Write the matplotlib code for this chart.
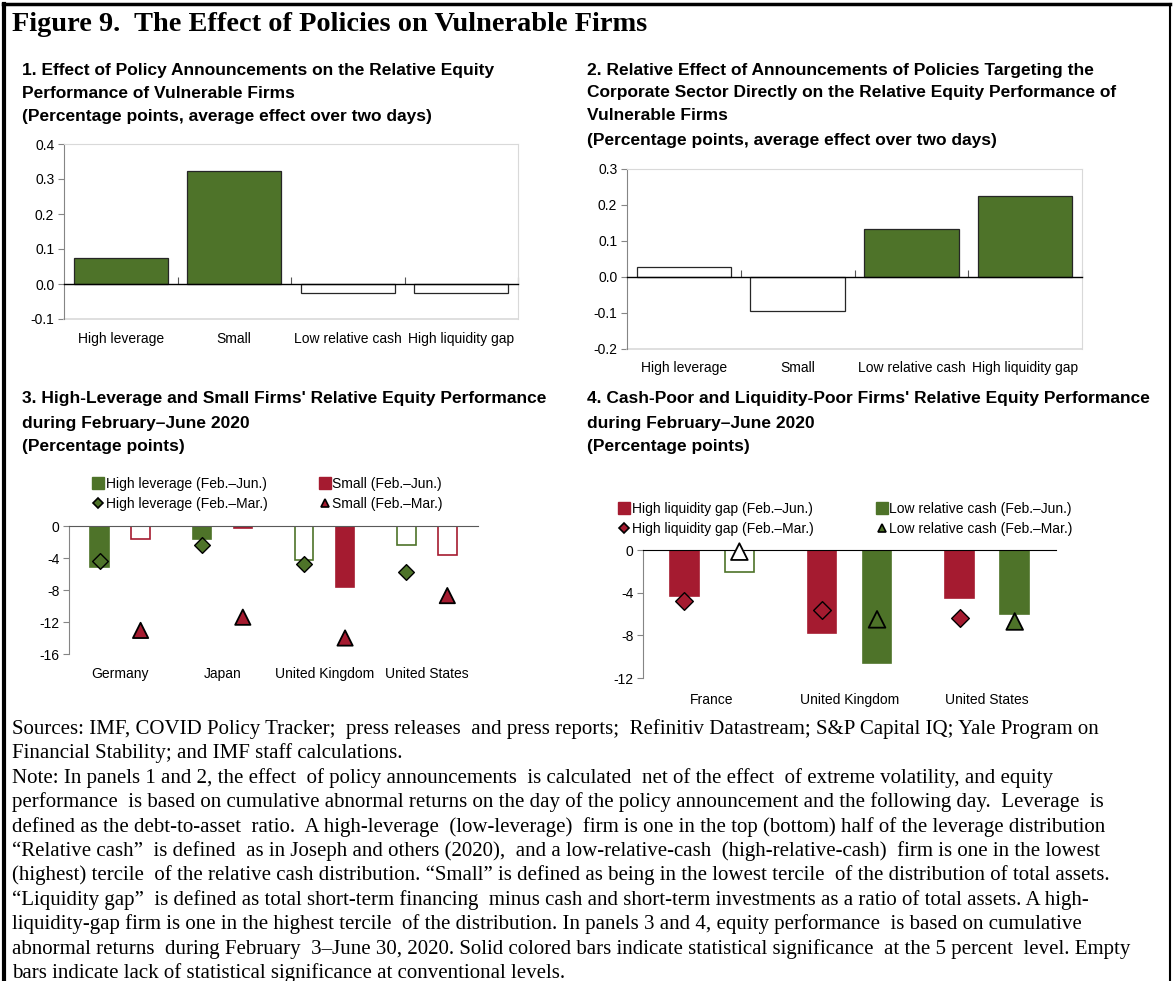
import numpy as np
import matplotlib
matplotlib.use("Agg")
import matplotlib.pyplot as plt
from matplotlib.lines import Line2D
from matplotlib import transforms

plt.rcParams['axes.unicode_minus'] = False

# ---- data ----
p1_cats = ["High leverage", "Small", "Low relative cash", "High liquidity gap"]
p1_vals = [0.075, 0.323, -0.026, -0.026]
p1_sig = [True, True, False, False]

p2_cats = ["High leverage", "Small", "Low relative cash", "High liquidity gap"]
p2_vals = [0.028, -0.095, 0.134, 0.224]
p2_sig = [False, False, True, True]

p3_countries = ["Germany", "Japan", "United Kingdom", "United States"]
p3_lev_jun = [-5.1, -1.65, -4.3, -2.4]
p3_lev_jun_sig = [True, True, False, False]
p3_small_jun = [-1.65, -0.3, -7.6, -3.6]
p3_small_jun_sig = [False, True, True, False]
p3_lev_mar = [-4.35, -2.4, -4.8, -5.7]
p3_small_mar = [-13.05, -11.4, -14.0, -8.7]

p4_countries = ["France", "United Kingdom", "United States"]
p4_gap_jun = [-4.27, -7.8, -4.5]
p4_gap_jun_sig = [True, True, True]
p4_cash_jun = [-2.1, -10.6, -6.0]
p4_cash_jun_sig = [False, True, True]
p4_gap_mar = [-4.8, -5.6, -6.4]
p4_cash_mar = [-0.15, -6.5, -6.7]
p4_cash_mar_sig = [False, True, True]

GREEN = "#4e7329"
RED = "#a51b30"
EDGE = "#262626"
LIGHT = "#d9d9d9"
AXGRAY = "#858585"

W, H = 1173, 981
fig = plt.figure(figsize=(W / 100, H / 100), dpi=100)

SANS = ["Liberation Sans", "DejaVu Sans"]
SERIF = ["Liberation Serif", "DejaVu Serif"]


def rect(l, t, r, b):
    return [l / W, 1 - b / H, (r - l) / W, (b - t) / H]


def ftext(x, y, s, **kw):
    fig.text(x / W, 1 - y / H, s, **kw)


# frame around the figure
fig.add_artist(Line2D([4 / W, 4 / W], [0, 1 - 4 / H], color="black", lw=3))
fig.add_artist(Line2D([3 / W, 1170 / W], [1 - 4 / H, 1 - 4 / H], color="black", lw=2.5))
fig.add_artist(Line2D([1170 / W, 1170 / W], [0, 1 - 4 / H], color="black", lw=1.5))

ftext(12, 31, "Figure 9.  The Effect of Policies on Vulnerable Firms", family=SERIF,
      weight="bold", fontsize=20.4, va="baseline")

title_kw = dict(family=SANS, weight="bold", fontsize=12.5, va="center")
ftext(22, 70, "1. Effect of Policy Announcements on the Relative Equity", **title_kw)
ftext(22, 93, "Performance of Vulnerable Firms", **title_kw)
ftext(22, 116, "(Percentage points, average effect over two days)", **title_kw)

ftext(587, 70, "2. Relative Effect of Announcements of Policies Targeting the", **title_kw)
ftext(587, 93, "Corporate Sector Directly on the Relative Equity Performance of", **title_kw)
ftext(587, 116, "Vulnerable Firms", **title_kw)
ftext(587, 140, "(Percentage points, average effect over two days)", **title_kw)

ftext(22, 399, "3. High-Leverage and Small Firms' Relative Equity Performance", **title_kw)
ftext(22, 423, "during February\u2013June 2020", **title_kw)
ftext(22, 447, "(Percentage points)", **title_kw)

ftext(587, 399, "4. Cash-Poor and Liquidity-Poor Firms' Relative Equity Performance", **title_kw)
ftext(587, 423, "during February\u2013June 2020", **title_kw)
ftext(587, 447, "(Percentage points)", **title_kw)

tick_kw = dict(family=SANS, fontsize=10)


def style_left(ax):
    ax.spines["left"].set_color(AXGRAY)
    ax.tick_params(axis="y", direction="out", length=4, color=AXGRAY, pad=3,
                   labelsize=10, labelfontfamily=SANS)


def cat_labels(ax, cats, ypix):
    tr = transforms.blended_transform_factory(ax.transData, fig.transFigure)
    for i, c in enumerate(cats):
        ax.text(i, 1 - ypix / H, c, transform=tr, ha="center", va="center", **tick_kw)


# ---- panels 1 and 2 ----
def simple_panel(box, cats, vals, sig, ylim, ticks, fmt, label_y):
    ax = fig.add_axes(rect(*box))
    x = np.arange(len(cats))
    colors = [GREEN if s else "white" for s in sig]
    ax.bar(x, vals, width=0.83, color=colors, edgecolor=EDGE, linewidth=0.9, zorder=2)
    ax.set_xlim(-0.5, len(cats) - 0.5)
    ax.set_ylim(*ylim)
    ax.set_yticks(ticks)
    ax.set_yticklabels([fmt.format(t) for t in ticks])
    # zero line as bottom spine with small ticks at category boundaries
    ax.spines["bottom"].set_position(("data", 0))
    ax.spines["bottom"].set_color("black")
    ax.spines["bottom"].set_linewidth(1.0)
    ax.spines["bottom"].set_zorder(3)
    ax.set_xticks(x + 0.5)
    ax.tick_params(axis="x", direction="in", length=5, width=0.8, color="#555555",
                   labelbottom=False)
    for s in ["top", "right"]:
        ax.spines[s].set_color(LIGHT)
    ax.axhline(ylim[0], color=LIGHT, lw=1.2, clip_on=False)
    style_left(ax)
    cat_labels(ax, cats, label_y)
    return ax


simple_panel((64, 144, 518, 319), p1_cats, p1_vals, p1_sig, (-0.1, 0.4),
             [-0.1, 0.0, 0.1, 0.2, 0.3, 0.4], "{:.1f}", 339)
simple_panel((627, 169, 1082, 349), p2_cats, p2_vals, p2_sig, (-0.2, 0.3),
             [-0.2, -0.1, 0.0, 0.1, 0.2, 0.3], "{:.1f}", 368)


# ---- panels 3 and 4 ----
def country_panel(box, cats, jun_a, sig_a, col_a, jun_b, sig_b, col_b,
                  mar_a, mar_b, mar_b_sig, ylim, ticks, width, ms, zero_col, label_y):
    ax = fig.add_axes(rect(*box))
    x = np.arange(len(cats))
    off = 0.2
    ax.bar(x - off, jun_a, width=width, color=[col_a if s else "white" for s in sig_a],
           edgecolor=col_a, linewidth=1.2, zorder=2)
    ax.bar(x + off, jun_b, width=width, color=[col_b if s else "white" for s in sig_b],
           edgecolor=col_b, linewidth=1.2, zorder=2)
    ax.scatter(x - off, mar_a, marker="D", s=ms[0] ** 2, color=col_a, edgecolor="black",
               linewidth=1.0, zorder=4, clip_on=False)
    ax.scatter(x + off, mar_b, marker="^", s=ms[1] ** 2,
               color=[col_b if s else "white" for s in mar_b_sig],
               edgecolor="black", linewidth=1.3, zorder=4, clip_on=False)
    ax.set_xlim(-0.5, len(cats) - 0.5)
    ax.set_ylim(*ylim)
    ax.set_yticks(ticks)
    ax.spines["bottom"].set_position(("data", 0))
    ax.spines["bottom"].set_color(zero_col)
    ax.spines["bottom"].set_zorder(3)
    ax.set_xticks([])
    ax.spines["top"].set_visible(False)
    ax.spines["right"].set_visible(False)
    style_left(ax)
    cat_labels(ax, cats, label_y)
    return ax


ax3 = country_panel((69, 526, 478, 654), p3_countries,
                    p3_lev_jun, p3_lev_jun_sig, GREEN, p3_small_jun, p3_small_jun_sig, RED,
                    p3_lev_mar, p3_small_mar, [True] * 4, (-16, 0), [-16, -12, -8, -4, 0],
                    0.18, (8, 11), "#595959", 674)
ax4 = country_panel((643, 550, 1056, 678), p4_countries,
                    p4_gap_jun, p4_gap_jun_sig, RED, p4_cash_jun, p4_cash_jun_sig, GREEN,
                    p4_gap_mar, p4_cash_mar, p4_cash_mar_sig, (-12, 0), [-12, -8, -4, 0],
                    0.21, (9, 12), "black", 700)


def legend(ax, labels, cols, anchor, colsp):
    h = [Line2D([], [], ls="none", marker="s", ms=8, color=cols[0]),
         Line2D([], [], ls="none", marker="D", ms=5, color=cols[0], mec="black", mew=1.2),
         Line2D([], [], ls="none", marker="s", ms=8, color=cols[1]),
         Line2D([], [], ls="none", marker="^", ms=6, color=cols[1], mec="black", mew=1.2)]
    ax.legend(h, labels, ncol=2, loc="upper left", bbox_to_anchor=(anchor[0] / W, 1 - anchor[1] / H),
              bbox_transform=fig.transFigure, frameon=False, handlelength=0.6,
              handletextpad=0.25, columnspacing=colsp, labelspacing=0.45, borderpad=0,
              borderaxespad=0, prop={"family": SANS, "size": 10})


legend(ax3, ["High leverage (Feb.\u2013Jun.)", "High leverage (Feb.\u2013Mar.)",
             "Small (Feb.\u2013Jun.)", "Small (Feb.\u2013Mar.)"], [GREEN, RED], (94, 477), 3.8)
legend(ax4, ["High liquidity gap (Feb.\u2013Jun.)", "High liquidity gap (Feb.\u2013Mar.)",
             "Low relative cash (Feb.\u2013Jun.)", "Low relative cash (Feb.\u2013Mar.)"],
       [RED, GREEN], (620, 502), 4.6)

# ---- notes ----
notes = [
    "Sources: IMF, COVID Policy Tracker;  press releases  and press reports;  Refinitiv Datastream; S&P Capital IQ; Yale Program on",
    "Financial Stability; and IMF staff calculations.",
    "Note: In panels 1 and 2, the effect  of policy announcements  is calculated  net of the effect  of extreme volatility, and equity",
    "performance  is based on cumulative abnormal returns on the day of the policy announcement and the following day.  Leverage  is",
    "defined as the debt-to-asset  ratio.  A high-leverage  (low-leverage)  firm is one in the top (bottom) half of the leverage distribution",
    "\u201cRelative cash\u201d  is defined  as in Joseph and others (2020),  and a low-relative-cash  (high-relative-cash)  firm is one in the lowest",
    "(highest) tercile  of the relative cash distribution. \u201cSmall\u201d is defined as being in the lowest tercile  of the distribution of total assets.",
    "\u201cLiquidity gap\u201d  is defined as total short-term financing  minus cash and short-term investments as a ratio of total assets. A high-",
    "liquidity-gap firm is one in the highest tercile  of the distribution. In panels 3 and 4, equity performance  is based on cumulative",
    "abnormal returns  during February  3\u2013June 30, 2020. Solid colored bars indicate statistical significance  at the 5 percent  level. Empty",
    "bars indicate lack of statistical significance at conventional levels.",
]
y0, dy = 729, 24.4
for i, s in enumerate(notes):
    ftext(12, y0 + i * dy, s, family=SERIF, fontsize=15, va="center")

fig.savefig("out.png", dpi=100)
